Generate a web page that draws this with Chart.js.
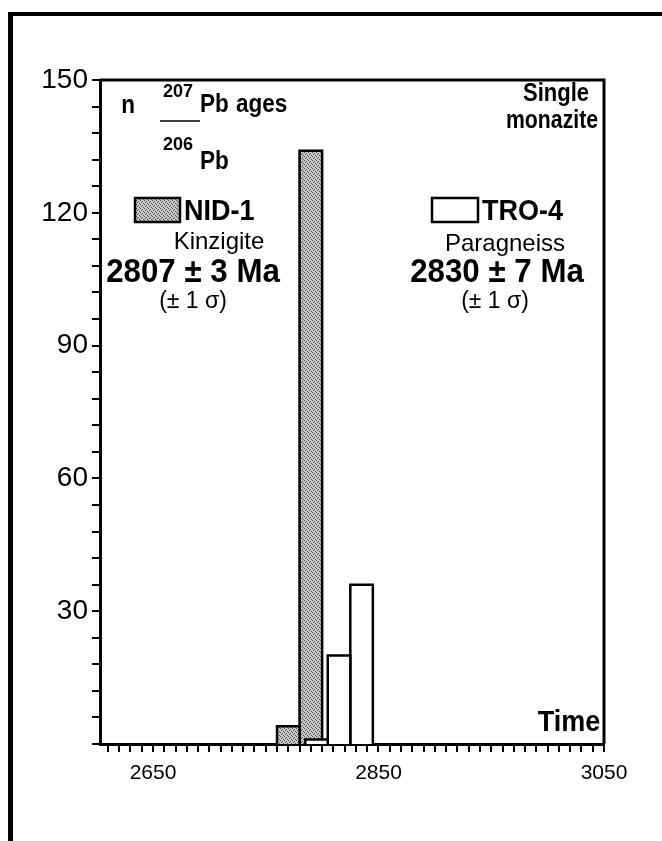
<!DOCTYPE html>
<html>
<head>
<meta charset="utf-8">
<script src="https://cdn.jsdelivr.net/npm/chart.js@4.4.1/dist/chart.umd.min.js"></script>
<style>
    html, body { margin: 0; padding: 0; background: #fff; }
    #wrap { position: relative; width: 662px; height: 841px; overflow: hidden; }
    #myChart { position: absolute; left: 0; top: 0; }
    #frame { position: absolute; left: 8px; top: 12px; right: -10px; bottom: -10px; border-top: 4px solid #000; border-left: 5px solid #000; pointer-events: none; }
</style>
</head>
<body>
<div id="wrap">
    <canvas id="myChart" width="662" height="841"></canvas>
    <div id="frame"></div>
</div>
<script>
// NID-1 (kinzigite), grey bars
const nidBinStart = [2760, 2780]
const nidBinEnd = [2780, 2800]
const nidCounts = [4, 134]

// TRO-4 (paragneiss), open bars
const troBinStart = [2785, 2805, 2825]
const troBinEnd = [2805, 2825, 2845]
const troCounts = [1, 20, 36]

const xTickLabels = [2650, 2850, 3050]
const yTickLabels = [30, 60, 90, 120, 150]

const family = "'Liberation Sans', Arial, sans-serif"
Chart.defaults.font.family = family
Chart.defaults.color = "#000"

// stippled grey like the scanned figure
function makeStipple() {
    const c = document.createElement("canvas")
    c.width = 4
    c.height = 4
    const g = c.getContext("2d")
    g.fillStyle = "#c8c8c8"
    g.fillRect(0, 0, 4, 4)
    g.fillStyle = "#505050"
    g.fillRect(0, 0, 1, 1)
    g.fillRect(2, 1, 1, 1)
    g.fillRect(1, 2, 1, 1)
    g.fillRect(3, 3, 1, 1)
    return g.createPattern(c, "repeat")
}
const stipple = makeStipple()

function binDatasets(starts, ends, counts, fillStyle, order) {
    return counts.map((c, i) => ({
        data: [
            { x: starts[i], y: 0 },
            { x: starts[i], y: c },
            { x: ends[i], y: c },
            { x: ends[i], y: 0 }
        ],
        borderColor: "#000",
        borderWidth: 2.5,
        backgroundColor: fillStyle,
        fill: "origin",
        pointRadius: 0,
        tension: 0,
        order: order
    }))
}

const datasets = [
    ...binDatasets(troBinStart, troBinEnd, troCounts, "#fff", 1),
    ...binDatasets(nidBinStart, nidBinEnd, nidCounts, stipple, 2)
]

function tickRange(from, to, step) {
    const out = []
    for (let v = from; v <= to; v += step) out.push({ value: v })
    return out
}

// text drawn on top, a little condensed like the original lettering
function drawText(ctx, text, x, y, size, bold, align, squeeze) {
    ctx.save()
    ctx.font = (bold ? "bold " : "") + size + "px " + family
    ctx.textAlign = align
    ctx.textBaseline = "alphabetic"
    ctx.translate(x, y)
    ctx.scale(squeeze, 1)
    ctx.fillText(text, 0, 0)
    ctx.restore()
}

const notes = [
    ["n", 128, 113, 25, true, "center", 0.9],
    ["207", 178, 97, 19, true, "center", 0.95],
    ["Pb", 200, 112, 25, true, "left", 0.9],
    ["ages", 236, 112, 25, true, "left", 0.9],
    ["206", 178, 150, 19, true, "center", 0.95],
    ["Pb", 200, 169, 25, true, "left", 0.9],
    ["Single", 556, 101, 25, true, "center", 0.88],
    ["monazite", 552, 128, 25, true, "center", 0.85],
    ["NID-1", 184, 220, 30, true, "left", 0.9],
    ["Kinzigite", 219, 249, 24, false, "center", 1],
    ["2807 \u00b1 3 Ma", 193, 282, 34, true, "center", 0.92],
    ["(\u00b1 1 \u03c3)", 193, 308, 23, false, "center", 1],
    ["TRO-4", 482, 220, 30, true, "left", 0.9],
    ["Paragneiss", 505, 251, 24, false, "center", 1],
    ["2830 \u00b1 7 Ma", 497, 282, 34, true, "center", 0.92],
    ["(\u00b1 1 \u03c3)", 495, 308, 23, false, "center", 1],
    ["Time", 569, 731, 30, true, "center", 0.9]
]

const decor = {
    id: "decor",
    afterDraw(chart) {
        const ctx = chart.ctx
        const a = chart.chartArea
        ctx.save()
        ctx.strokeStyle = "#000"
        ctx.lineWidth = 3
        ctx.beginPath()
        ctx.moveTo(a.left, a.top)
        ctx.lineTo(a.right, a.top)
        ctx.lineTo(a.right, a.bottom)
        ctx.stroke()

        // fraction bar of the isotope ratio
        ctx.lineWidth = 1.5
        ctx.beginPath()
        ctx.moveTo(160, 121)
        ctx.lineTo(200, 121)
        ctx.stroke()

        // legend boxes
        ctx.lineWidth = 2.5
        ctx.fillStyle = stipple
        ctx.fillRect(135, 198, 45, 24)
        ctx.strokeRect(135, 198, 45, 24)
        ctx.fillStyle = "#fff"
        ctx.fillRect(432, 198, 46, 24)
        ctx.strokeRect(432, 198, 46, 24)
        ctx.restore()

        ctx.fillStyle = "#000"
        notes.forEach(n => drawText(ctx, ...n))
    }
}

const ctx = document.getElementById("myChart").getContext("2d")
new Chart(ctx, {
    type: "line",
    data: { datasets: datasets },
    options: {
        responsive: false,
        animation: false,
        events: [],
        layout: { padding: { top: 80, right: 58, left: 0, bottom: 0 } },
        plugins: { legend: { display: false }, tooltip: { enabled: false } },
        scales: {
            x: {
                type: "linear",
                min: 2603,
                max: 3050,
                afterBuildTicks: s => { s.ticks = tickRange(2610, 3050, 10) },
                afterFit: s => { s.height = 97 },
                ticks: {
                    autoSkip: false,
                    maxRotation: 0,
                    padding: 9,
                    font: { size: 21 },
                    callback: v => xTickLabels.includes(v) ? String(v) : ""
                },
                grid: { drawOnChartArea: false, drawTicks: true, tickLength: 8, color: "#000", lineWidth: 2 },
                border: { color: "#000", width: 3 }
            },
            y: {
                min: 0,
                max: 150,
                afterBuildTicks: s => { s.ticks = tickRange(0, 150, 6) },
                afterFit: s => { s.width = 100 },
                ticks: {
                    autoSkip: false,
                    padding: 4,
                    font: { size: 28 },
                    callback: v => yTickLabels.includes(v) ? String(v) : ""
                },
                grid: { drawOnChartArea: false, drawTicks: true, tickLength: 8, color: "#000", lineWidth: 2 },
                border: { color: "#000", width: 3 }
            }
        }
    },
    plugins: [decor]
})
</script>
</body>
</html>
